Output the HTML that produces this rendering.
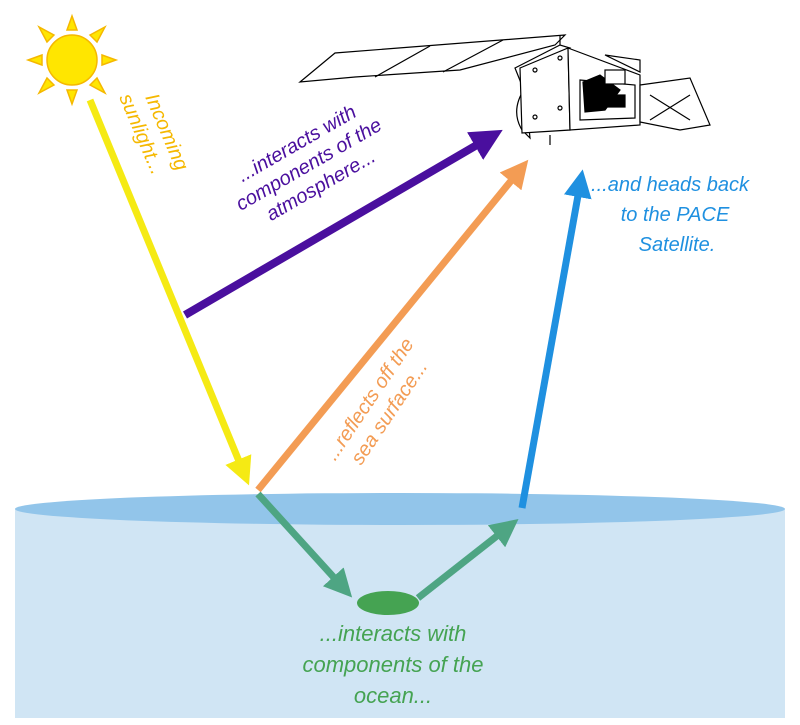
<!DOCTYPE html>
<html><head><meta charset="utf-8"><style>
html,body{margin:0;padding:0;background:#fff;}
svg{display:block;font-family:"Liberation Sans",sans-serif;font-style:italic;}
</style></head><body>
<svg width="800" height="725" viewBox="0 0 800 725">
<defs>
<marker id="ay" markerWidth="4" markerHeight="4" refX="1" refY="2" orient="auto" markerUnits="strokeWidth"><path d="M0,0 L4,2 L0,4 Z" fill="#f5ea14"/></marker>
<marker id="ap" markerWidth="4" markerHeight="4" refX="1" refY="2" orient="auto" markerUnits="strokeWidth"><path d="M0,0 L4,2 L0,4 Z" fill="#4a0f9e"/></marker>
<marker id="ao" markerWidth="4" markerHeight="4" refX="1" refY="2" orient="auto" markerUnits="strokeWidth"><path d="M0,0 L4,2 L0,4 Z" fill="#f39c54"/></marker>
<marker id="ab" markerWidth="4" markerHeight="4" refX="1" refY="2" orient="auto" markerUnits="strokeWidth"><path d="M0,0 L4,2 L0,4 Z" fill="#1f90e0"/></marker>
<marker id="ag" markerWidth="4" markerHeight="4" refX="1" refY="2" orient="auto" markerUnits="strokeWidth"><path d="M0,0 L4,2 L0,4 Z" fill="#4ea583"/></marker>
</defs>
<g>
<rect x="15" y="509" width="770" height="209" fill="#d0e5f4"/>
<ellipse cx="400" cy="509" rx="385" ry="16" fill="#92c5ea"/>
</g>
<g fill="#ffe600" stroke="#f5b800" stroke-width="1.5">
<g transform="translate(72,60)">
<polygon points="-5,-30 5,-30 0,-44"/><polygon points="-5,30 5,30 0,44"/>
<polygon points="-30,-5 -30,5 -44,0"/><polygon points="30,-5 30,5 44,0"/>
<polygon points="-18,-25 -25,-18 -33,-33" /><polygon points="18,-25 25,-18 33,-33"/>
<polygon points="-18,25 -25,18 -33,33"/><polygon points="18,25 25,18 33,33"/>
<circle r="25"/>
</g></g>
<g fill="#fff" stroke="#000" stroke-width="1.2">
<polygon points="300,82 335,53 565,35 555,45 460,70 355,77"/>
<line x1="375" y1="77" x2="430" y2="46"/><line x1="443" y1="72" x2="503" y2="40"/>
<path d="M515,68 L560,45 L570,48 L523,88 Z"/>
<path d="M525,88 Q510,110 522,130 L530,138 Z"/>
<polygon points="520,68 568,48 570,130 522,133"/>
<polygon points="568,48 640,75 640,125 570,130"/>
<polygon points="605,55 640,60 640,72"/>
<polygon points="640,85 690,78 710,125 680,130 640,122"/>
<line x1="650" y1="95" x2="690" y2="120"/><line x1="650" y1="120" x2="690" y2="95"/>
<path d="M580,80 L635,85 L635,118 L580,120 Z" fill="#fff"/>
<rect x="590" y="95" width="35" height="12" fill="#000"/>
<path d="M583,82 L600,75 L620,90 L605,110 L585,112 Z" fill="#000"/>
<rect x="605" y="70" width="20" height="14"/>
<circle cx="535" cy="70" r="2"/><circle cx="560" cy="58" r="2"/><circle cx="535" cy="117" r="2"/><circle cx="560" cy="108" r="2"/>
<line x1="560" y1="45" x2="560" y2="35"/><line x1="550" y1="135" x2="550" y2="145"/>
</g>
<g fill="none" stroke-linecap="butt">
<line x1="90" y1="100" x2="241" y2="466" stroke="#f5ea14" stroke-width="7" marker-end="url(#ay)"/>
<line x1="185" y1="315" x2="482" y2="142" stroke="#4a0f9e" stroke-width="8" marker-end="url(#ap)"/>
<line x1="258" y1="490" x2="515" y2="176" stroke="#f39c54" stroke-width="7" marker-end="url(#ao)"/>
<line x1="522" y1="508" x2="579" y2="190" stroke="#1f90e0" stroke-width="7" marker-end="url(#ab)"/>
<line x1="258" y1="494" x2="338" y2="582" stroke="#4ea583" stroke-width="7" marker-end="url(#ag)"/>
<line x1="418" y1="598" x2="502" y2="532" stroke="#4ea583" stroke-width="7" marker-end="url(#ag)"/>
</g>
<ellipse cx="388" cy="603" rx="31" ry="12" fill="#45a352"/>
<g font-size="20">
<text fill="#f5b800" transform="translate(145,97) rotate(67)"><tspan x="0" y="0">Incoming</tspan><tspan x="-10" y="24">sunlight...</tspan></text>
<text fill="#4a0f9e" text-anchor="middle" transform="translate(312,170) rotate(-30)"><tspan x="0" y="-24">...interacts with</tspan><tspan x="0" y="0">components of the</tspan><tspan x="0" y="24">atmosphere...</tspan></text>
<text fill="#f39c54" text-anchor="middle" transform="translate(378,405) rotate(-56)"><tspan x="0" y="-4">...reflects off the</tspan><tspan x="0" y="20">sea surface...</tspan></text>
<text fill="#1f90e0" text-anchor="middle"><tspan x="670" y="191">...and heads back</tspan><tspan x="675" y="221">to the PACE</tspan><tspan x="677" y="251">Satellite.</tspan></text>
<text fill="#45a352" text-anchor="middle" font-size="22"><tspan x="393" y="641">...interacts with</tspan><tspan x="393" y="672">components of the</tspan><tspan x="393" y="703">ocean...</tspan></text>
</g>
</svg>
</body></html>
